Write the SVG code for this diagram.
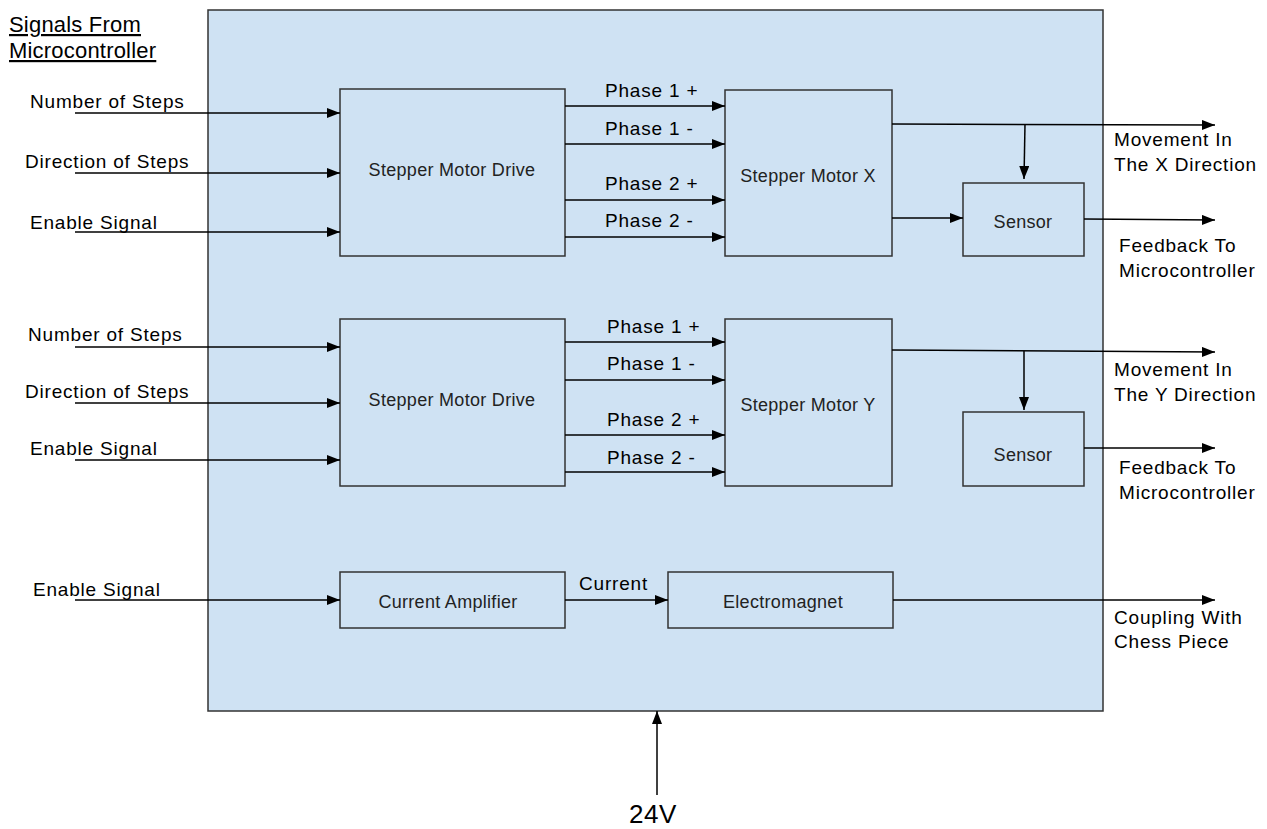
<svg xmlns="http://www.w3.org/2000/svg" width="1267" height="829" viewBox="0 0 1267 829">
<defs>
<marker id="ah" markerUnits="userSpaceOnUse" markerWidth="14" markerHeight="10" refX="13" refY="5" orient="auto">
<path d="M0,0 L13,5 L0,10 Z" fill="#000"/>
</marker>
<style>
.box{fill:#cfe2f3;stroke:#333;stroke-width:1.5}
.ln{fill:none;stroke:#000;stroke-width:1.5;marker-end:url(#ah)}
.t{font-family:"Liberation Sans",Arial,sans-serif;font-size:19px;letter-spacing:0.8px;fill:#000}
.bt{font-family:"Liberation Sans",Arial,sans-serif;font-size:18px;letter-spacing:0.3px;fill:#222;text-anchor:middle}
</style>
</defs>
<rect width="1267" height="829" fill="#fff"/>
<g id="outer"><rect x="208" y="10" width="895" height="701" class="box"/></g>

<g id="title">
<text class="t" x="9" y="32" style="font-size:22px;text-decoration:underline;letter-spacing:0.2px">Signals From</text>
<text class="t" x="9" y="58" style="font-size:22px;text-decoration:underline;letter-spacing:0.2px">Microcontroller</text>
</g>

<g id="driveX"><rect x="340" y="89" width="225" height="167" class="box"/><text class="bt" x="452" y="176">Stepper Motor Drive</text></g>
<g id="motorX"><rect x="725" y="90" width="167" height="166" class="box"/><text class="bt" x="808" y="182">Stepper Motor X</text></g>
<g id="sensorX"><rect x="963" y="183" width="121" height="73" class="box"/><text class="bt" x="1023" y="228">Sensor</text></g>

<g id="driveY"><rect x="340" y="319" width="225" height="167" class="box"/><text class="bt" x="452" y="406">Stepper Motor Drive</text></g>
<g id="motorY"><rect x="725" y="319" width="167" height="167" class="box"/><text class="bt" x="808" y="411">Stepper Motor Y</text></g>
<g id="sensorY"><rect x="963" y="412" width="121" height="74" class="box"/><text class="bt" x="1023" y="461">Sensor</text></g>

<g id="amp"><rect x="340" y="572" width="225" height="56" class="box"/><text class="bt" x="448" y="608">Current Amplifier</text></g>
<g id="magnet"><rect x="668" y="572" width="225" height="56" class="box"/><text class="bt" x="783" y="608">Electromagnet</text></g>

<g id="connectors">
<path class="ln" d="M75,113 H340"/>
<path class="ln" d="M75,173 H340"/>
<path class="ln" d="M75,232 H340"/>
<path class="ln" d="M565,106 H725"/>
<path class="ln" d="M565,144 H725"/>
<path class="ln" d="M565,200 H725"/>
<path class="ln" d="M565,237 H725"/>
<path class="ln" d="M892,124 L1215,125"/>
<path class="ln" d="M1025,124 L1024,179"/>
<path class="ln" d="M892,218 H963"/>
<path class="ln" d="M1084,219 L1215,220"/>

<path class="ln" d="M75,347 H340"/>
<path class="ln" d="M75,403 H340"/>
<path class="ln" d="M75,460 H340"/>
<path class="ln" d="M565,342 H725"/>
<path class="ln" d="M565,380 H725"/>
<path class="ln" d="M565,435 H725"/>
<path class="ln" d="M565,472 H725"/>
<path class="ln" d="M892,350 L1215,352"/>
<path class="ln" d="M1024,351 V410"/>
<path class="ln" d="M1084,448 H1215"/>

<path class="ln" d="M75,600 H340"/>
<path class="ln" d="M565,600 H668"/>
<path class="ln" d="M893,600 H1215"/>
<path class="ln" d="M657,795 V711"/>
</g>

<g id="labels">
<text class="t" x="30" y="108">Number of Steps</text>
<text class="t" x="25" y="168">Direction of Steps</text>
<text class="t" x="30" y="229">Enable Signal</text>
<text class="t" x="605" y="97">Phase 1 +</text>
<text class="t" x="605" y="135">Phase 1 -</text>
<text class="t" x="605" y="190">Phase 2 +</text>
<text class="t" x="605" y="227">Phase 2 -</text>
<text class="t" x="1114" y="146">Movement In</text>
<text class="t" x="1114" y="171">The X Direction</text>
<text class="t" x="1119" y="252">Feedback To</text>
<text class="t" x="1119" y="277">Microcontroller</text>

<text class="t" x="28" y="341">Number of Steps</text>
<text class="t" x="25" y="398">Direction of Steps</text>
<text class="t" x="30" y="455">Enable Signal</text>
<text class="t" x="607" y="333">Phase 1 +</text>
<text class="t" x="607" y="370">Phase 1 -</text>
<text class="t" x="607" y="426">Phase 2 +</text>
<text class="t" x="607" y="464">Phase 2 -</text>
<text class="t" x="1114" y="376">Movement In</text>
<text class="t" x="1114" y="401">The Y Direction</text>
<text class="t" x="1119" y="474">Feedback To</text>
<text class="t" x="1119" y="499">Microcontroller</text>

<text class="t" x="33" y="596">Enable Signal</text>
<text class="t" x="579" y="590">Current</text>
<text class="t" x="1114" y="624">Coupling With</text>
<text class="t" x="1114" y="648">Chess Piece</text>
<text class="t" x="629" y="823" style="font-size:26px;letter-spacing:0.5px">24V</text>
</g>
</svg>
